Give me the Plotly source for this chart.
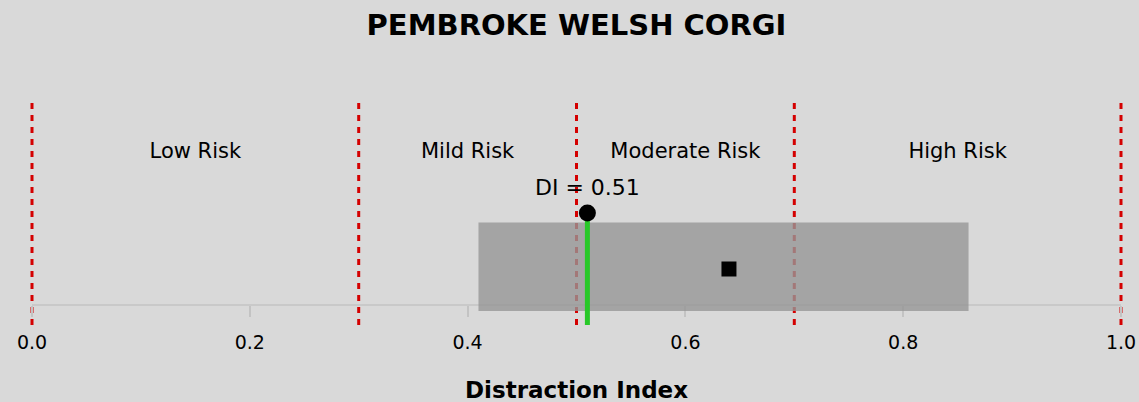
import plotly.graph_objects as go

# ---- data ----
breed_name = "PEMBROKE WELSH CORGI"
axis_title = "Distraction Index"
risk_bounds = [0.0, 0.3, 0.5, 0.7, 1.0]
risk_labels = ["Low Risk", "Mild Risk", "Moderate Risk", "High Risk"]
tick_vals = [0.0, 0.2, 0.4, 0.6, 0.8, 1.0]
tick_text = ["0.0", "0.2", "0.4", "0.6", "0.8", "1.0"]
breed_min = 0.41
breed_max = 0.86
breed_mean = 0.64
di_value = 0.51

# vertical layout positions (in y-axis units, range 0..1)
axis_y = 0.089
band_bottom = 0.0625
band_top = 0.458
mean_y = 0.25
di_y = 0.5
di_label_y = 0.607
risk_label_y = 0.767
axis_title_y = -0.288

FONT = "DejaVu Sans"
BG = "#d9d9d9"
RED = "rgb(212,0,0)"

fig = go.Figure()

# breed range band
fig.add_trace(go.Bar(
    x=[breed_max - breed_min], base=[breed_min],
    y=[(band_bottom + band_top) / 2], width=[band_top - band_bottom],
    orientation="h",
    marker=dict(color="rgba(150,150,150,0.80)", line=dict(width=0)),
    hoverinfo="skip", showlegend=False,
))

# DI line
fig.add_trace(go.Scatter(
    x=[di_value, di_value], y=[0, di_y], mode="lines",
    line=dict(color="rgb(40,200,40)", width=5),
    hoverinfo="skip", showlegend=False,
))

# DI dot
fig.add_trace(go.Scatter(
    x=[di_value], y=[di_y], mode="markers",
    marker=dict(color="black", size=17, symbol="circle"),
    cliponaxis=False, hoverinfo="skip", showlegend=False,
))

# breed mean square
fig.add_trace(go.Scatter(
    x=[breed_mean], y=[mean_y], mode="markers",
    marker=dict(color="black", size=15, symbol="square"),
    cliponaxis=False, hoverinfo="skip", showlegend=False,
))

# DI label
fig.add_trace(go.Scatter(
    x=[di_value], y=[di_label_y], mode="text",
    text=[f"DI = {di_value:.2f}"],
    textfont=dict(family=FONT, size=22, color="black"),
    cliponaxis=False, hoverinfo="skip", showlegend=False,
))

# risk zone labels
label_x = [(risk_bounds[i] + risk_bounds[i + 1]) / 2 for i in range(len(risk_labels))]
fig.add_trace(go.Scatter(
    x=label_x, y=[risk_label_y] * len(risk_labels), mode="text",
    text=risk_labels,
    textfont=dict(family=FONT, size=21, color="black"),
    cliponaxis=False, hoverinfo="skip", showlegend=False,
))

shapes = []
# axis baseline
shapes.append(dict(type="line", xref="x", yref="y", x0=0, x1=1, y0=axis_y, y1=axis_y,
                   line=dict(color="#c3c3c3", width=1.5), layer="below"))
# risk boundaries
for b in risk_bounds:
    shapes.append(dict(type="line", xref="x", yref="y", x0=b, x1=b, y0=0, y1=1,
                       line=dict(color=RED, width=3, dash="6px,6px"), layer="below"))

fig.update_layout(
    width=1139, height=402,
    margin=dict(l=28, r=14, t=101, b=77, autoexpand=False),
    paper_bgcolor=BG, plot_bgcolor=BG,
    shapes=shapes,
    annotations=[dict(
        text=f"<b>{axis_title}</b>", xref="x", yref="paper",
        x=0.5, y=axis_title_y, xanchor="center", yanchor="middle",
        showarrow=False, font=dict(family=FONT, size=23, color="black"),
    )],
    showlegend=False,
    hovermode=False,
    barmode="overlay",
    font=dict(family=FONT, color="black"),
    title=dict(text=f"<b>{breed_name}</b>", x=0.5, xref="paper", xanchor="center",
               y=1 - 25 / 402, yref="container", yanchor="middle",
               font=dict(family=FONT, size=29, color="black")),
    xaxis=dict(
        range=[-0.00367, 1.00367],
        anchor="free", position=axis_y,
        automargin=False,
        showline=False, showgrid=False, zeroline=False,
        ticks="outside", ticklen=11, tickwidth=1.5, tickcolor="#c3c3c3",
        tickvals=tick_vals, ticktext=tick_text,
        tickfont=dict(family=FONT, size=19, color="black"),
        ticklabelstandoff=9,
        layer="below traces",
        fixedrange=True,
    ),
    yaxis=dict(range=[0, 1], visible=False, automargin=False,
               showgrid=False, zeroline=False, fixedrange=True),
)

fig.write_html("out.html", config={"displayModeBar": False},
               post_script="document.body.style.margin='0px';")
